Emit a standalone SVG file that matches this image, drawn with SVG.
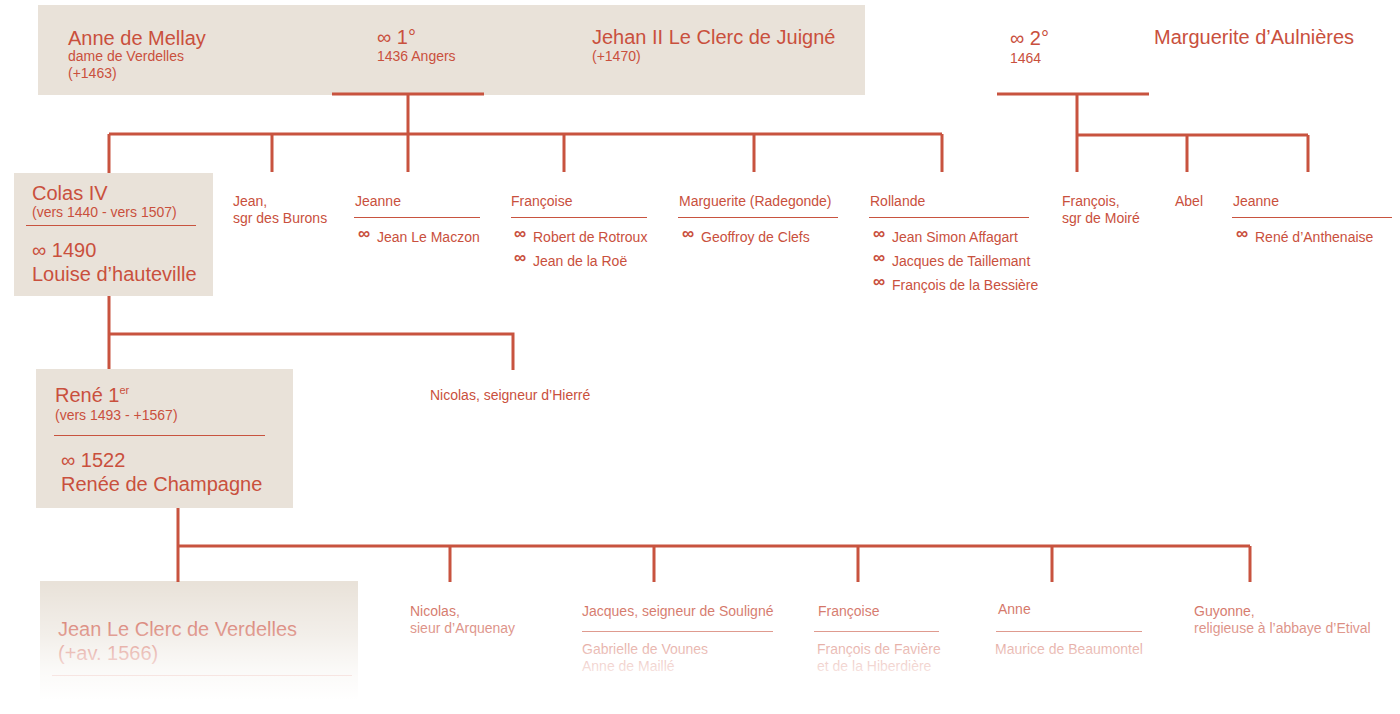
<svg xmlns="http://www.w3.org/2000/svg" width="1400" height="714" viewBox="0 0 1400 714">
<defs>
<style>
text{font-family:"Liberation Sans",Arial,sans-serif;fill:#c9503d}
.b{font-size:20px}
.s{font-size:14px}
.m{font-size:17px;font-weight:bold}
.box{fill:#e9e2d9}
.c{stroke:#c8533f;stroke-width:3;fill:none}
.r{stroke:#c8533f;stroke-width:1;fill:none}
</style>
<linearGradient id="fade" x1="0" y1="583" x2="0" y2="700" gradientUnits="userSpaceOnUse">
<stop offset="0" stop-color="#fff" stop-opacity="0"/>
<stop offset="0.24" stop-color="#fff" stop-opacity="0.25"/>
<stop offset="0.45" stop-color="#fff" stop-opacity="0.45"/>
<stop offset="0.6" stop-color="#fff" stop-opacity="0.65"/>
<stop offset="0.75" stop-color="#fff" stop-opacity="0.82"/>
<stop offset="1" stop-color="#fff" stop-opacity="1"/>
</linearGradient>
</defs>
<rect width="1400" height="714" fill="#fff"/>

<g id="couple1">
<rect class="box" x="38" y="5" width="827" height="90"/>
<text class="b" x="68" y="45">Anne de Mellay</text>
<text class="s" x="68" y="61">dame de Verdelles</text>
<text class="s" x="68" y="78">(+1463)</text>
<text class="b" x="377" y="44">∞ 1°</text>
<text class="s" x="377" y="61">1436 Angers</text>
<text class="b" x="592" y="44">Jehan II Le Clerc de Juigné</text>
<text class="s" x="592" y="61">(+1470)</text>
</g>

<g id="couple2">
<text class="b" x="1010" y="45">∞ 2°</text>
<text class="s" x="1010" y="63">1464</text>
<text class="b" x="1154" y="44">Marguerite d’Aulnières</text>
</g>

<g id="colas">
<rect class="box" x="14" y="173" width="199" height="123"/>
<text class="b" x="32" y="200">Colas IV</text>
<text class="s" x="32" y="217">(vers 1440 - vers 1507)</text>
<path class="r" d="M26 225.5H196"/>
<text class="b" x="32" y="257">∞ 1490</text>
<text class="b" x="32" y="281">Louise d’hauteville</text>
</g>

<g id="jean-burons">
<text class="s" x="233" y="206">Jean,</text>
<text class="s" x="233" y="223">sgr des Burons</text>
</g>

<g id="jeanne1">
<text class="s" x="355" y="206">Jeanne</text>
<path class="r" d="M354 217.5H480"/>
<text class="m" x="358" y="239">∞</text>
<text class="s" x="377" y="242">Jean Le Maczon</text>
</g>

<g id="francoise1">
<text class="s" x="511" y="206">Françoise</text>
<path class="r" d="M511 217.5H647"/>
<text class="m" x="514" y="239">∞</text>
<text class="s" x="533" y="242">Robert de Rotroux</text>
<text class="m" x="514" y="263">∞</text>
<text class="s" x="533" y="266">Jean de la Roë</text>
</g>

<g id="marguerite">
<text class="s" x="679" y="206">Marguerite (Radegonde)</text>
<path class="r" d="M678 217.5H838"/>
<text class="m" x="682" y="239">∞</text>
<text class="s" x="701" y="242">Geoffroy de Clefs</text>
</g>

<g id="rollande">
<text class="s" x="870" y="206">Rollande</text>
<path class="r" d="M869 217.5H1029"/>
<text class="m" x="873" y="239">∞</text>
<text class="s" x="892" y="242">Jean Simon Affagart</text>
<text class="m" x="873" y="263">∞</text>
<text class="s" x="892" y="266">Jacques de Taillemant</text>
<text class="m" x="873" y="287">∞</text>
<text class="s" x="892" y="290">François de la Bessière</text>
</g>

<g id="francois-moire">
<text class="s" x="1062" y="206">François,</text>
<text class="s" x="1062" y="223">sgr de Moiré</text>
</g>

<g id="abel">
<text class="s" x="1175" y="206">Abel</text>
</g>

<g id="jeanne2">
<text class="s" x="1233" y="206">Jeanne</text>
<path class="r" d="M1232 217.5H1392"/>
<text class="m" x="1236" y="239">∞</text>
<text class="s" x="1255" y="242">René d’Anthenaise</text>
</g>

<g id="nicolas-hierre">
<text class="s" x="430" y="400">Nicolas, seigneur d’Hierré</text>
</g>

<g id="rene">
<rect class="box" x="36" y="369" width="257" height="139"/>
<text class="b" x="55" y="402">René 1<tspan font-size="11" dy="-8">er</tspan></text>
<text class="s" x="55" y="420">(vers 1493 - +1567)</text>
<path class="r" d="M54 435.5H265"/>
<text class="b" x="61" y="467">∞ 1522</text>
<text class="b" x="61" y="491">Renée de Champagne</text>
</g>

<g id="jean-verdelles">
<rect class="box" x="40" y="581" width="318" height="120"/>
<text class="b" x="58" y="636">Jean Le Clerc de Verdelles</text>
<text class="b" x="58" y="660">(+av. 1566)</text>
<path class="r" d="M52 675.5H352"/>
</g>

<g id="nicolas-arquenay">
<text class="s" x="410" y="616">Nicolas,</text>
<text class="s" x="410" y="633">sieur d’Arquenay</text>
</g>

<g id="jacques">
<text class="s" x="582" y="616">Jacques, seigneur de Souligné</text>
<path class="r" d="M582 631.5H773"/>
<text class="s" x="582" y="654">Gabrielle de Vounes</text>
<text class="s" x="582" y="671">Anne de Maillé</text>
</g>

<g id="francoise2">
<text class="s" x="818" y="616">Françoise</text>
<path class="r" d="M814 631.5H939"/>
<text class="s" x="817" y="654">François de Favière</text>
<text class="s" x="817" y="671">et de la Hiberdière</text>
</g>

<g id="anne">
<text class="s" x="998" y="614">Anne</text>
<path class="r" d="M996 631.5H1142"/>
<text class="s" x="995" y="654">Maurice de Beaumontel</text>
</g>

<g id="guyonne">
<text class="s" x="1194" y="616">Guyonne,</text>
<text class="s" x="1194" y="633">religieuse à l’abbaye d’Etival</text>
</g>

<g id="connectors">
<path class="c" d="M332 94H484M408 94V134M109 134H942M109 134V173M272 134V172M408 134V172M564 134V172M754 134V172M942 134V172"/>
<path class="c" d="M997 94H1149M1077 94V135M1077 135H1308M1077 135V172M1187 135V172M1308 135V172"/>
<path class="c" d="M109 296V369M109 334H513V370"/>
<path class="c" d="M178 508V582M178 546H1250M450 546V582M654 546V582M858 546V582M1052 546V582M1250 546V582"/>
</g>

<rect x="0" y="583" width="1400" height="131" fill="url(#fade)"/>
</svg>
